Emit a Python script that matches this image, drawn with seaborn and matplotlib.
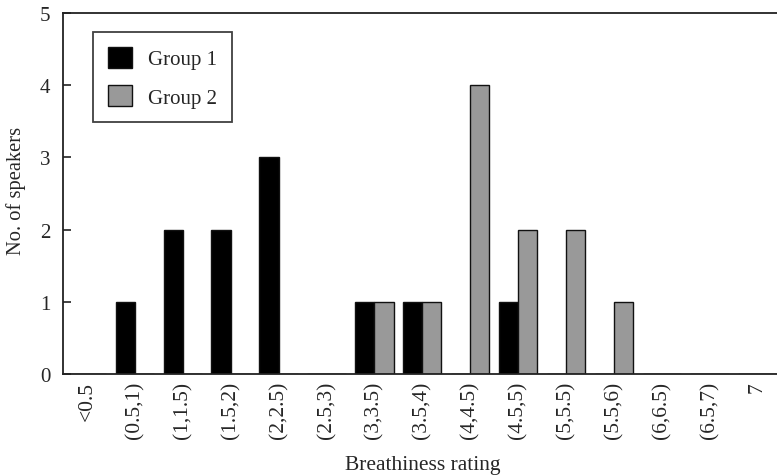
import matplotlib
matplotlib.use("Agg")
import matplotlib.pyplot as plt
import seaborn as sns
import pandas as pd

categories = ["<0.5", "(0.5,1)", "(1,1.5)", "(1.5,2)", "(2,2.5)", "(2.5,3)", "(3,3.5)",
              "(3.5,4)", "(4,4.5)", "(4.5,5)", "(5,5.5)", "(5.5,6)", "(6,6.5)", "(6.5,7)", "7"]
group1 = [0, 1, 2, 2, 3, 0, 1, 1, 0, 1, 0, 0, 0, 0, 0]
group2 = [0, 0, 0, 0, 0, 0, 1, 1, 4, 2, 2, 1, 0, 0, 0]
series_names = ["Group 1", "Group 2"]
yticks = [0, 1, 2, 3, 4, 5]

df = pd.DataFrame({
    "Breathiness rating": categories * 2,
    "count": group1 + group2,
    "group": [series_names[0]] * len(categories) + [series_names[1]] * len(categories),
})

sns.set_style("white")
plt.rcParams["font.family"] = ["Liberation Serif", "DejaVu Serif"]

W, H = 777, 477
fig = plt.figure(figsize=(W / 100, H / 100), dpi=100)
left, right, top, bottom = 63, 63 + 15 * 47.9, 14, 375
ax = fig.add_axes([left / W, (H - bottom) / H, (right - left) / W, (bottom - top) / H])

sns.barplot(data=df, x="Breathiness rating", y="count", hue="group", order=categories,
            hue_order=series_names, palette=["#000000", "#999999"], edgecolor="#111111",
            linewidth=1.0, width=0.8, ax=ax, saturation=1)

ax.set_xlim(-0.5, len(categories) - 0.5)
ax.set_ylim(0, 5)
ax.set_yticks(yticks)
ax.set_yticklabels([str(v) for v in yticks], fontsize=15)

# ticks at category boundaries, labels at centers
ax.set_xticks([i + 0.5 for i in range(len(categories) - 1)])
ax.set_xticklabels([])
ax.set_xticks(range(len(categories)), minor=True)
ax.set_xticklabels(categories, minor=True, rotation=90, fontsize=15.5, va="top")
ax.tick_params(axis="x", which="major", direction="in", length=6, width=1.2, color="#222222")
ax.tick_params(axis="x", which="minor", length=0, pad=5)
ax.tick_params(axis="y", direction="in", length=6, width=1.2, color="#222222", pad=9, left=True)

for s in ax.spines.values():
    s.set_color("#222222")
    s.set_linewidth(1.3)

ax.set_xlabel("Breathiness rating", fontsize=15.5, labelpad=12)
ax.set_ylabel("No. of speakers", fontsize=14.8)
ax.yaxis.set_label_coords(-(63 - 26) / (right - left), 1 - (191 - top) / (bottom - top))

leg = ax.legend(loc="upper left", bbox_to_anchor=((93 - left) / (right - left), (bottom - 33) / (bottom - top)),
                fontsize=15, frameon=True, fancybox=False, edgecolor="#111111",
                handlelength=1.15, handleheight=1.2, handletextpad=0.8, borderpad=0.7,
                labelspacing=0.75, borderaxespad=0)
leg.get_frame().set_linewidth(1.3)

fig.savefig("out.png", dpi=100)
